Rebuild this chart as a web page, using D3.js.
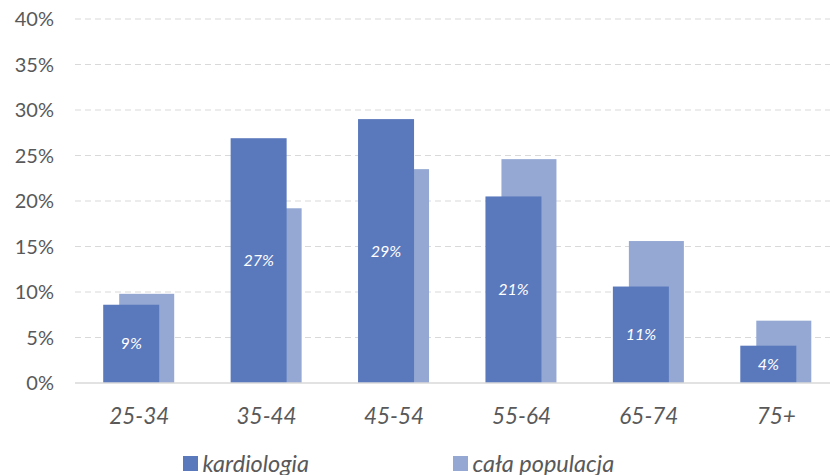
<!DOCTYPE html>
<html><head><meta charset="utf-8">
<script src="https://cdn.jsdelivr.net/npm/d3@7"></script>
<style>body{margin:0;background:#fff}svg{display:block;font-family:Lato,sans-serif}</style>
</head><body><svg id="c" width="830" height="475"></svg>
<script>
const categories = ["25-34","35-44","45-54","55-64","65-74","75+"];
const kardiologia = [8.6, 26.9, 29.0, 20.5, 10.6, 4.1];
const populacja = [9.8, 19.2, 23.5, 24.6, 15.6, 6.85];
const labels = ["9%","27%","29%","21%","11%","4%"];
const yTicks = [0,5,10,15,20,25,30,35,40];
const seriesNames = ["kardiologia","cała populacja"];
const colors = ["#5a78bc","#94a8d3"];

const svg = d3.select("#c");
const x = d3.scaleBand().domain(categories).range([75.5, 840]).paddingInner(0).paddingOuter(0);
const y = d3.scaleLinear().domain([0,40]).range([383, 19]);

// gridlines
svg.append("g").selectAll("line").data(yTicks.filter(d=>d>0)).join("line")
  .attr("x1",75).attr("x2",830).attr("y1",d=>y(d)).attr("y2",d=>y(d))
  .attr("stroke","#d9d9d9").attr("stroke-width",1.2).attr("stroke-dasharray","6,4");

// y labels
svg.append("g").selectAll("text").data(yTicks).join("text")
  .attr("x",54).attr("y",d=>y(d)).attr("dy","0.35em").attr("text-anchor","end")
  .attr("font-size",20).attr("fill","#595959").text(d=>d+"%");

const bw = 56, off = 16;
// light bars (behind)
svg.append("g").selectAll("rect").data(populacja).join("rect")
  .attr("x",(d,i)=>x(categories[i])+x.bandwidth()/2 - (bw+off)/2 + off)
  .attr("width",bw-1).attr("y",d=>y(d)).attr("height",d=>y(0)-y(d))
  .attr("fill",colors[1]);
// dark bars
svg.append("g").selectAll("rect").data(kardiologia).join("rect")
  .attr("x",(d,i)=>x(categories[i])+x.bandwidth()/2 - (bw+off)/2)
  .attr("width",bw).attr("y",d=>y(d)).attr("height",d=>y(0)-y(d))
  .attr("fill",colors[0]);
// value labels
svg.append("g").selectAll("text").data(kardiologia).join("text")
  .attr("x",(d,i)=>x(categories[i])+x.bandwidth()/2 - (bw+off)/2 + bw/2)
  .attr("y",d=>(y(d)+y(0))/2).attr("dy","0.35em").attr("text-anchor","middle")
  .attr("font-size",16).attr("font-style","italic").attr("fill","#fff").text((d,i)=>labels[i]);

// baseline
svg.append("line").attr("x1",75).attr("x2",830).attr("y1",y(0)).attr("y2",y(0))
  .attr("stroke","#d9d9d9").attr("stroke-width",1.5);

// x labels
svg.append("g").selectAll("text").data(categories).join("text")
  .attr("x",d=>x(d)+x.bandwidth()/2).attr("y",423.5).attr("text-anchor","middle")
  .attr("font-size",22.5).attr("font-style","italic").attr("fill","#595959").text(d=>d);

// legend
const lx = [183, 453];
const lg = svg.append("g").selectAll("g").data(seriesNames).join("g");
lg.append("rect").attr("x",(d,i)=>lx[i]).attr("y",456).attr("width",15).attr("height",15).attr("fill",(d,i)=>colors[i]);
lg.append("text").attr("x",(d,i)=>lx[i]+19.5).attr("y",472)
  .attr("font-size",23.5).attr("font-style","italic").attr("fill","#595959").text(d=>d);
</script></body></html>
